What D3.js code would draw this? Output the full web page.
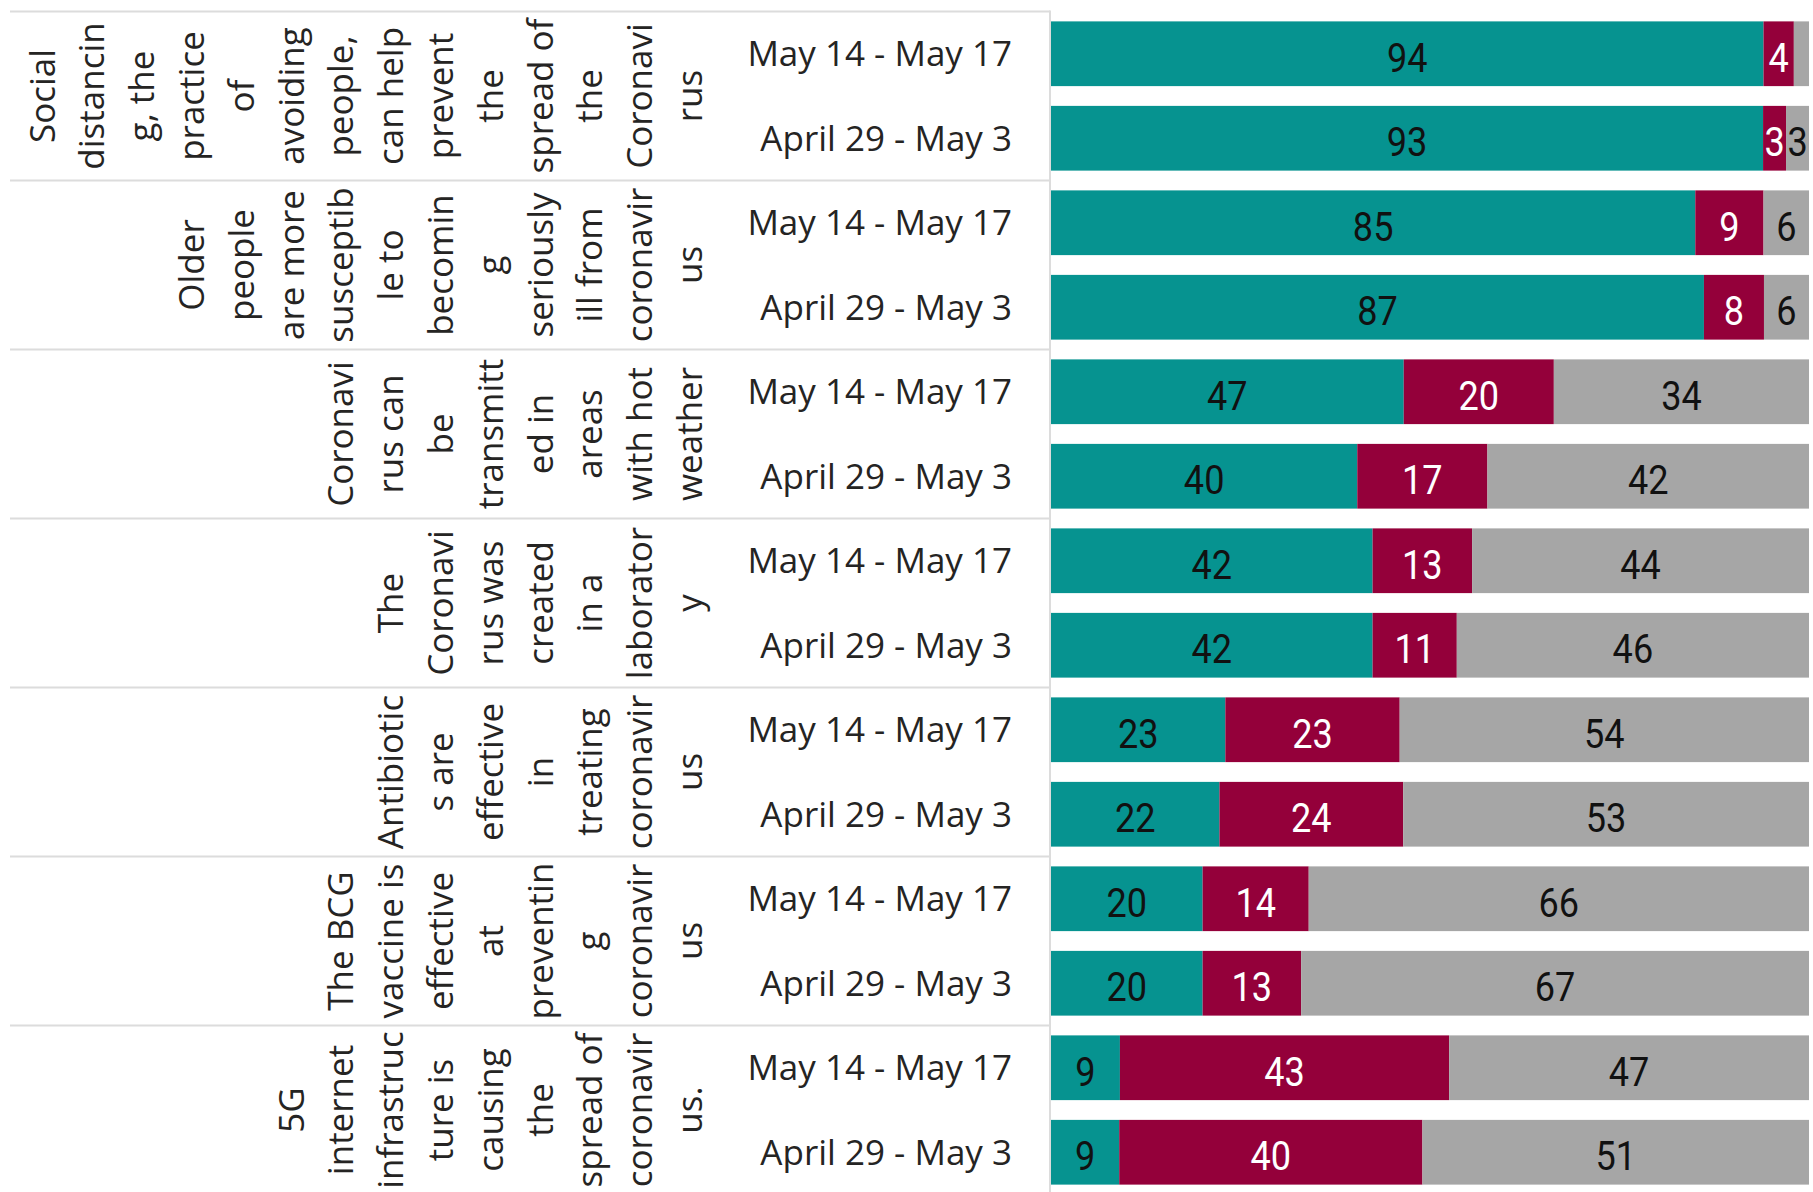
<!DOCTYPE html>
<html>
<head>
<meta charset="utf-8">
<script src="https://cdn.jsdelivr.net/npm/d3@7"></script>
<style>
  body { margin: 0; background: #fff; }
</style>
</head>
<body>
<div id="chart"></div>
<script>
// statements, already wrapped the way the report wraps them (one entry per rotated line)
const statements = [
  ['Social', 'distancin', 'g, the', 'practice', 'of', 'avoiding', 'people,', 'can help', 'prevent', 'the', 'spread of', 'the', 'Coronavi', 'rus'],
  ['Older', 'people', 'are more', 'susceptib', 'le to', 'becomin', 'g', 'seriously', 'ill from', 'coronavir', 'us'],
  ['Coronavi', 'rus can', 'be', 'transmitt', 'ed in', 'areas', 'with hot', 'weather'],
  ['The', 'Coronavi', 'rus was', 'created', 'in a', 'laborator', 'y'],
  ['Antibiotic', 's are', 'effective', 'in', 'treating', 'coronavir', 'us'],
  ['The BCG', 'vaccine is', 'effective', 'at', 'preventin', 'g', 'coronavir', 'us'],
  ['5G', 'internet', 'infrastruc', 'ture is', 'causing', 'the', 'spread of', 'coronavir', 'us.']
];
const periods = ['May 14 - May 17', 'April 29 - May 3'];

// one value per row, rows go statement by statement, newer period first
const trueVals = [94, 93, 85, 87, 47, 40, 42, 42, 23, 22, 20, 20, 9, 9];
const falseVals = [4, 3, 9, 8, 20, 17, 13, 11, 23, 24, 14, 13, 43, 40];
const dontKnowVals = [2, 3, 6, 6, 34, 42, 44, 46, 54, 53, 66, 67, 47, 51];

const seriesKeys = ['True', 'False', "Don't know"];
const seriesColors = ['#069390', '#94003a', '#a6a6a6'];
const labelColors = ['#111', '#fff', '#111'];

const width = 1813;
const height = 1192;
const chartTop = 11.5;
const groupH = 169;
const bandsTop = chartTop;
const bandsBottom = chartTop + groupH * statements.length;
const barLeft = 1051;
const barRight = 1809;
const colEdge = 1050;
const lastLineX = 702;
const lineStep = 49.8;

const rows = [];
statements.forEach((s, i) => {
  periods.forEach((p, j) => {
    const k = i * periods.length + j;
    rows.push({
      id: k,
      group: i,
      period: p,
      True: trueVals[k],
      False: falseVals[k],
      "Don't know": dontKnowVals[k]
    });
  });
});

const svg = d3
  .select('#chart')
  .append('svg')
  .attr('width', width)
  .attr('height', height)
  .style('background', '#fff');

const y = d3
  .scaleBand()
  .domain(rows.map((d) => d.id))
  .range([bandsTop, bandsBottom])
  .paddingInner(0.234)
  .paddingOuter(0.117);

const yGroup = d3
  .scaleBand()
  .domain(d3.range(statements.length))
  .range([bandsTop, bandsBottom]);

const x = d3.scaleLinear().domain([0, 1]).range([barLeft, barRight]);

// 100% stacked, each row expands to its own total
const stack = d3.stack().keys(seriesKeys).offset(d3.stackOffsetExpand);
const layers = stack(rows);

// grid lines of the label table
const grid = svg.append('g').attr('stroke', '#dcdcdc').attr('stroke-width', 2);
grid
  .selectAll('line.h')
  .data(d3.range(statements.length))
  .enter()
  .append('line')
  .attr('class', 'h')
  .attr('x1', 10)
  .attr('x2', colEdge)
  .attr('y1', (d) => yGroup(d))
  .attr('y2', (d) => yGroup(d));
grid
  .append('line')
  .attr('x1', colEdge)
  .attr('x2', colEdge)
  .attr('y1', bandsTop - 1)
  .attr('y2', height);

// rotated statement labels, last line always sits on the same column
const stmt = svg
  .append('g')
  .attr('font-family', "'Open Sans', 'Noto Sans', sans-serif")
  .attr('font-size', 35)
  .attr('fill', '#252423')
  .attr('text-anchor', 'middle');

statements.forEach((lines, i) => {
  const cy = yGroup(i) + yGroup.bandwidth() / 2;
  stmt
    .append('g')
    .selectAll('text')
    .data(lines)
    .enter()
    .append('text')
    .attr('transform', (d, j) => {
      const lx = lastLineX - (lines.length - 1 - j) * lineStep;
      return 'translate(' + lx + ',' + cy + ') rotate(-90)';
    })
    .text((d) => d);
});

// period labels
svg
  .append('g')
  .attr('font-family', "'Open Sans', 'Noto Sans', sans-serif")
  .attr('font-size', 35)
  .attr('fill', '#252423')
  .attr('text-anchor', 'end')
  .selectAll('text')
  .data(rows)
  .enter()
  .append('text')
  .attr('x', 1012)
  .attr('y', (d) => y(d.id) + y.bandwidth() / 2)
  .attr('dy', '0.357em')
  .text((d) => d.period);

// bars
const layer = svg
  .append('g')
  .selectAll('g')
  .data(layers)
  .enter()
  .append('g')
  .attr('fill', (d, i) => seriesColors[i]);

layer
  .selectAll('rect')
  .data((d) => d)
  .enter()
  .append('rect')
  .attr('x', (d) => x(d[0]))
  .attr('y', (d) => y(d.data.id))
  .attr('width', (d) => x(d[1]) - x(d[0]))
  .attr('height', y.bandwidth());

// value labels, hidden when the segment is too narrow
// squeezed horizontally to get the narrow look of the original labels
const labels = svg
  .append('g')
  .attr('font-family', 'Roboto, sans-serif')
  .attr('font-size', 41)
  .attr('text-anchor', 'middle');

layers.forEach((s, i) => {
  labels
    .append('g')
    .attr('fill', labelColors[i])
    .selectAll('text')
    .data(s.filter((d) => x(d[1]) - x(d[0]) >= 18))
    .enter()
    .append('text')
    .attr('transform', (d) => {
      const cx = (x(d[0]) + x(d[1])) / 2;
      const cy = y(d.data.id) + y.bandwidth() / 2;
      return 'translate(' + cx + ',' + cy + ') scale(0.88,1)';
    })
    .attr('dy', '0.44em')
    .text((d) => d.data[s.key]);
});
</script>
</body>
</html>
